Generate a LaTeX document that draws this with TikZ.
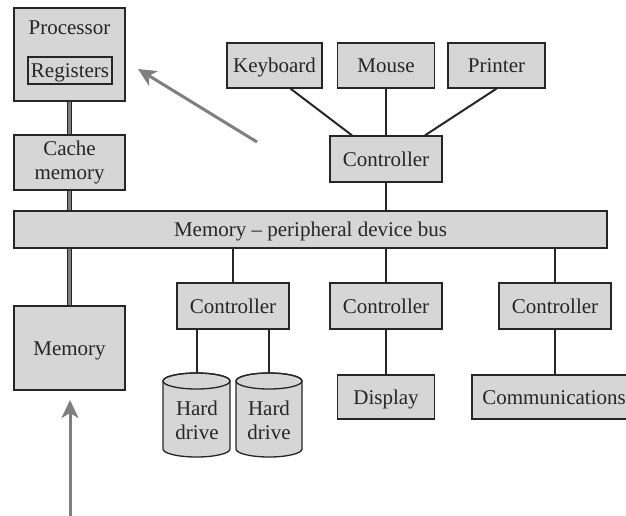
\documentclass[tikz,border=0pt]{standalone}
\usepackage{fontspec}
\setmainfont{Liberation Serif}
\usetikzlibrary{arrows.meta}
\definecolor{boxfill}{HTML}{D6D6D6}
\definecolor{ink}{HTML}{262626}
\definecolor{arrowgray}{HTML}{7F7F7F}
\begin{document}
\begin{tikzpicture}[x=1pt,y=-1pt,
  every node/.style={font=\fontsize{21}{24}\selectfont, text=ink, align=center},
  box/.style={draw=ink, fill=boxfill, line width=1.3pt, inner sep=0pt},
  oneline/.style={text height=15pt, text depth=1pt},
  link/.style={draw=ink, line width=2pt},
  bus2/.style={draw=ink, line width=1.2pt, double=arrowgray, double distance=2.8pt},
  ptr/.style={draw=arrowgray, line width=3pt, -{Stealth[length=18pt,width=17pt,inset=5pt]}}
]
\useasboundingbox (0,0) rectangle (626,516);

% CPU side
\node[box, minimum width=111pt, minimum height=93pt] (proc) at (69.5,54.5) {};
\node[oneline] (proct) at (69.5,28) {Processor};
\node[box, oneline, minimum width=84pt, minimum height=27pt] (reg) at (70,70.5) {Registers};
\node[box, minimum width=111pt, minimum height=55pt] (cache) at (69.5,162.5) {Cache\\memory};
\node[box, oneline, minimum width=593pt, minimum height=37pt] (bus) at (310.5,229.5) {Memory -- peripheral device bus};
\node[box, oneline, minimum width=111pt, minimum height=84pt] (mem) at (69.5,348) {Memory};

% input devices
\node[box, oneline, minimum width=95pt, minimum height=45pt] (kb) at (274.5,65.5) {Keyboard};
\node[box, oneline, minimum width=97pt, minimum height=45pt] (mouse) at (386,65.5) {Mouse};
\node[box, oneline, minimum width=97pt, minimum height=45pt] (prn) at (496.5,65.5) {Printer};
\node[box, oneline, minimum width=112pt, minimum height=46pt] (ctl0) at (386,159) {Controller};

% lower controllers
\node[box, oneline, minimum width=112pt, minimum height=46pt] (ctl1) at (233,306) {Controller};
\node[box, oneline, minimum width=112pt, minimum height=46pt] (ctl2) at (386,306) {Controller};
\node[box, oneline, minimum width=112pt, minimum height=46pt] (ctl3) at (555,306) {Controller};
\node[box, oneline, minimum width=97pt, minimum height=44pt] (disp) at (386,397) {Display};
\node[box, oneline, minimum width=164pt, minimum height=44pt] (comm) at (554,397) {Communications};

% hard drives (cylinders)
\path[box] (163,381) -- (163,449) arc[start angle=180, end angle=360, x radius=33.5pt, y radius=8pt] -- (230,381) arc[start angle=0, end angle=180, x radius=33.5pt, y radius=8pt] -- cycle;
\draw[draw=ink, line width=1.3pt] (196.5,381) ellipse [x radius=33.5pt, y radius=8pt];
\path[box] (236,381) -- (236,449) arc[start angle=180, end angle=360, x radius=33pt, y radius=8pt] -- (302,381) arc[start angle=0, end angle=180, x radius=33pt, y radius=8pt] -- cycle;
\draw[draw=ink, line width=1.3pt] (269,381) ellipse [x radius=33pt, y radius=8pt];
\node[minimum width=67pt, minimum height=94pt, inner sep=0pt] (hd1) at (197,420) {Hard\\drive};
\node[minimum width=66pt, minimum height=94pt, inner sep=0pt] (hd2) at (269,420) {Hard\\drive};

% system bus connections (double lines)
\draw[bus2] (proc.south) -- (cache.north);
\draw[bus2] (cache.south) -- (cache.south |- bus.north);
\draw[bus2] (mem.north |- bus.south) -- (mem.north);

% single connectors
\draw[link] ([xshift=16pt]kb.south) -- ([xshift=-34pt]ctl0.north);
\draw[link] (mouse.south) -- (ctl0.north);
\draw[link] (prn.south) -- ([xshift=39pt]ctl0.north);
\draw[link] (ctl0.south) -- (ctl0.south |- bus.north);
\draw[link] (ctl1.north |- bus.south) -- (ctl1.north);
\draw[link] (ctl2.north |- bus.south) -- (ctl2.north);
\draw[link] (ctl3.north |- bus.south) -- (ctl3.north);
\draw[link] (ctl1.south -| hd1.north) -- (hd1.north);
\draw[link] (ctl1.south -| hd2.north) -- (hd2.north);
\draw[link] (ctl2.south) -- (disp.north);
\draw[link] (ctl3.south) -- (ctl3.south |- comm.north);

% gray pointers
\coordinate (p1s) at (257,142);
\coordinate (p1e) at (138,69);
\coordinate (p2s) at (70,516);
\coordinate (p2e) at (70,400);
\draw[ptr] (p1s) -- (p1e);
\draw[ptr] (p2s) -- (p2e);
\end{tikzpicture}
\end{document}
